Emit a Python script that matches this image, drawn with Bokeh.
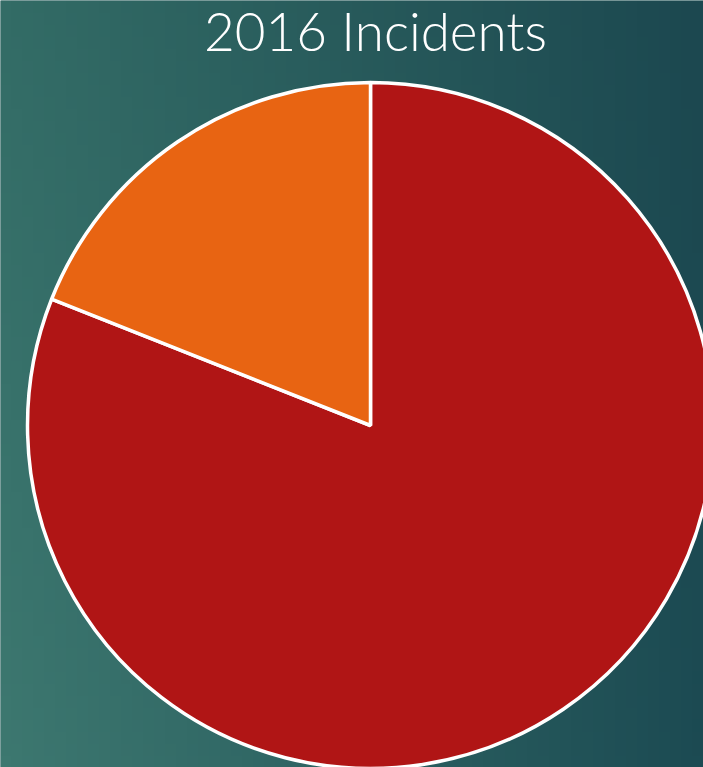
import numpy as np
from math import pi
from bokeh.plotting import figure
from bokeh.models import Range1d, ColumnDataSource
from bokeh.core.properties import value
from bokeh.embed import file_html
from bokeh.resources import INLINE

# ---- data ----
categories = ["Category 1", "Category 2"]
shares = [81, 19]
colors = ["#B01515", "#E86412"]
title_text = "2016 Incidents"

W, H = 703, 767
p = figure(width=W, height=H, output_backend="svg", toolbar_location=None,
           x_range=Range1d(0, W), y_range=Range1d(0, H), min_border=0)
p.axis.visible = False
p.grid.visible = False
p.outline_line_color = None
p.background_fill_color = "#2A5F5E"
p.border_fill_color = "#2A5F5E"

# background gradient (decoration)
n = 64
u = np.linspace(0, 1, n)[None, :]
v = np.linspace(0, 1, n)[:, None]  # v=0 bottom, 1 top
def hx(c):
    return np.array([int(c[i:i+2], 16) for i in (1, 3, 5)], dtype=float)
TL, BL, TR, BR = hx("#336C66"), hx("#3D7870"), hx("#1C4850"), hx("#1C4B53")
img = np.zeros((n, n), dtype=np.uint32)
view = img.view(dtype=np.uint8).reshape((n, n, 4))
for k in range(3):
    top = TL[k] * (1 - u) + TR[k] * u
    bot = BL[k] * (1 - u) + BR[k] * u
    view[:, :, k] = (bot * (1 - v) + top * v).astype(np.uint8)
view[:, :, 3] = 255
p.image_rgba(image=[img], x=0, y=0, dw=W, dh=H)

# pie
total = sum(shares)
starts, ends = [], []
acc = 0.0
for s in shares:
    a0 = pi / 2 - 2 * pi * acc / total
    acc += s
    a1 = pi / 2 - 2 * pi * acc / total
    starts.append(a0)
    ends.append(a1)
src = ColumnDataSource(dict(cat=categories, val=shares, color=colors,
                            start=starts, end=ends))
cx, cy = 370, H - 425
p.wedge(x=cx, y=cy, radius=343, radius_units="screen",
        start_angle="start", end_angle="end", direction="clock",
        fill_color="color", line_color="white", line_width=3.5, source=src)

p.text(x=[375], y=[H - 30], text=[title_text], text_font=value("'Lato Light', Lato"),
       text_font_size="53px", text_color="white", text_align="center",
       text_baseline="middle")

open("out.html", "w").write(file_html(p, INLINE))
